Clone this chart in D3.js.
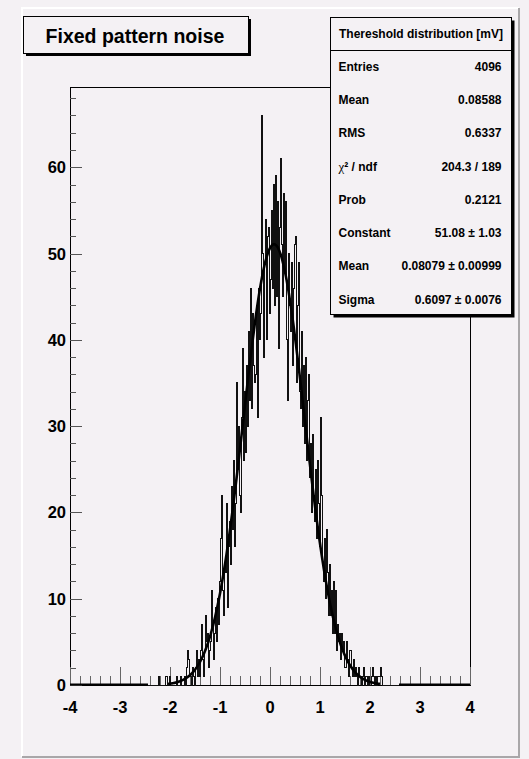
<!DOCTYPE html>
<html>
<head>
<meta charset="utf-8">
<script src="https://cdn.jsdelivr.net/npm/d3@7"></script>
<style>
  body { margin: 0; background: #f4f1f4; }
  svg text { font-family: "Liberation Sans", Arial, sans-serif; font-weight: bold; fill: #000; }
</style>
</head>
<body>
<div id="chart"></div>
<script>
// histogram binning
var xMin = -4, xMax = 4, nBins = 400;
var firstBin = 78; // bin holding the first stored count (left edge -2.44)

// counts per bin, 0.02 wide, from -2.44 to 2.58
var counts = [
  0, 0,
  0, 0, 0, 0, 0,
  0, 0, 0, 1, 0,
  0, 0, 0, 0, 0,
  1, 1, 0, 0, 1,
  0, 0, 0, 0, 0,
  0, 1, 0, 0, 0,
  1, 0, 0, 0, 1,
  0, 2, 4, 3, 1,
  1, 0, 2, 1, 0,
  2, 4, 1, 3, 1,
  4, 7, 3, 1, 4,
  8, 5, 6, 2, 4,
  5, 11, 7, 3, 6,
  9, 5, 10, 7, 12,
  17, 22, 11, 8, 14,
  13, 21, 9, 16, 19,
  14, 23, 18, 26, 16,
  21, 35, 25, 30, 22,
  20, 31, 39, 26, 34,
  27, 37, 30, 41, 33,
  46, 32, 43, 37, 35,
  36, 44, 31, 46, 40,
  43, 66, 50, 38, 49,
  54, 40, 52, 53, 43,
  47, 55, 46, 58, 44,
  59, 45, 56, 39, 53,
  61, 51, 45, 57, 48,
  56, 40, 33, 50, 44,
  41, 49, 37, 46, 51,
  52, 35, 44, 49, 34,
  32, 41, 30, 37, 28,
  38, 26, 33, 36, 24,
  28, 20, 29, 22, 19,
  25, 17, 26, 21, 16,
  31, 22, 14, 12, 17,
  10, 18, 13, 8, 14,
  8, 11, 6, 12, 6,
  11, 4, 7, 5, 6,
  3, 6, 4, 5, 2,
  2, 5, 3, 1, 4,
  4, 2, 1, 3, 1,
  2, 1, 0, 2, 1,
  1, 0, 1, 2, 0,
  1, 1, 0, 1, 0,
  0, 1, 2, 1, 0,
  1, 0, 1, 1, 1,
  2, 1, 0, 0, 0,
  0, 0, 0, 0, 0,
  0, 0, 0, 0, 0,
  0, 0, 0, 0
];

// gaus fit result
var fitConst = 51.08, fitMean = 0.08079, fitSigma = 0.6097;

var xTickLabels = ["-4", "-3", "-2", "-1", "0", "1", "2", "3", "4"];
var title = "Fixed pattern noise";
var statTitle = "Thereshold distribution [mV]";
var statLabels = ["Entries", "Mean", "RMS", "χ² / ndf", "Prob", "Constant", "Mean", "Sigma"];
var statValues = ["4096", "0.08588", "0.6337", "204.3 / 189", "0.2121", "51.08 ± 1.03", "0.08079 ± 0.00999", "0.6097 ± 0.0076"];

var W = 529, H = 759;
var padColor = "#f4f1f4";
var margin = {top: 87, right: 59, bottom: 74, left: 70},
    width = W - margin.left - margin.right,
    height = H - margin.top - margin.bottom;

var svg = d3.select("#chart").append("svg")
    .attr("width", W)
    .attr("height", H);

// pad with bevel border
svg.append("rect").attr("x", 0).attr("y", 0).attr("width", W).attr("height", H).attr("fill", padColor);
svg.append("path").attr("d", "M22,757 L22,8 L519,8").attr("fill", "none").attr("stroke", "#ffffff").attr("stroke-width", 2);
svg.append("path").attr("d", "M22,757 L519,757 L519,8").attr("fill", "none").attr("stroke", "#a9a7a9").attr("stroke-width", 2);

var binWidth = (xMax - xMin) / nBins;
var ymax = d3.max(counts) * 1.05;

var x = d3.scaleLinear().domain([xMin, xMax]).range([margin.left, margin.left + width]);
var y = d3.scaleLinear().domain([0, ymax]).range([margin.top + height, margin.top]);

var g = svg.append("g");

// frame
g.append("rect")
    .attr("x", margin.left + 0.5).attr("y", margin.top + 0.5)
    .attr("width", width).attr("height", height)
    .attr("fill", "none").attr("stroke", "#000").attr("stroke-width", 1);

// y ticks (inside frame)
var yMajor = y.ticks(7);
var yMinor = d3.range(0, ymax, 2).filter(function(v) { return v % 10 !== 0; });
g.selectAll(".ymin").data(yMinor).enter().append("line")
    .attr("x1", margin.left).attr("x2", margin.left + 6)
    .attr("y1", function(d) { return Math.round(y(d)) + 0.5; })
    .attr("y2", function(d) { return Math.round(y(d)) + 0.5; })
    .attr("stroke", "#555");
g.selectAll(".ymaj").data(yMajor).enter().append("line")
    .attr("x1", margin.left).attr("x2", margin.left + 12)
    .attr("y1", function(d) { return Math.round(y(d)) + 0.5; })
    .attr("y2", function(d) { return Math.round(y(d)) + 0.5; })
    .attr("stroke", "#555");
g.selectAll(".ylab").data(yMajor).enter().append("text")
    .attr("x", margin.left - 4)
    .attr("y", function(d) { return y(d) + 6; })
    .attr("text-anchor", "end")
    .style("font-size", "16.5px")
    .text(function(d) { return d; });

// x ticks (pointing up from bottom)
var xMajor = x.ticks(8);
var xMinor = d3.range(0, 41).map(function(i) { return xMin + i * 0.2; });
g.selectAll(".xmin").data(xMinor).enter().append("line")
    .attr("x1", function(d) { return Math.round(x(d)) + 0.5; })
    .attr("x2", function(d) { return Math.round(x(d)) + 0.5; })
    .attr("y1", y(0)).attr("y2", y(0) - 9)
    .attr("stroke", "#666");
g.selectAll(".xmaj").data(xMajor).enter().append("line")
    .attr("x1", function(d) { return Math.round(x(d)) + 0.5; })
    .attr("x2", function(d) { return Math.round(x(d)) + 0.5; })
    .attr("y1", y(0)).attr("y2", y(0) - 18)
    .attr("stroke", "#666");
g.selectAll(".xlab").data(xMajor).enter().append("text")
    .attr("x", function(d) { return x(d); })
    .attr("y", y(0) + 28)
    .attr("text-anchor", "middle")
    .style("font-size", "16.5px")
    .text(function(d, i) { return xTickLabels[i]; });

// histogram outline (steps)
var bins = counts.map(function(c, i) {
  var lo = xMin + (firstBin + i) * binWidth;
  return {lo: lo, hi: lo + binWidth, c: c};
});
var dataLo = bins[0].lo, dataHi = bins[bins.length - 1].hi;
var step = "M" + x(dataLo) + "," + y(0);
bins.forEach(function(b) {
  step += "L" + x(b.lo) + "," + y(b.c) + "L" + x(b.hi) + "," + y(b.c);
});
step += "L" + x(dataHi) + "," + y(0);
g.append("path").attr("d", step).attr("fill", "none")
    .attr("stroke", "#111").attr("stroke-width", 1)
    .attr("shape-rendering", "crispEdges");

// empty tails of the histogram
g.append("line").attr("x1", x(xMin)).attr("x2", x(dataLo)).attr("y1", y(0) - 0.5).attr("y2", y(0) - 0.5)
    .attr("stroke", "#000").attr("stroke-width", 2);
g.append("line").attr("x1", x(dataHi)).attr("x2", x(xMax)).attr("y1", y(0) - 0.5).attr("y2", y(0) - 0.5)
    .attr("stroke", "#000").attr("stroke-width", 2);

// fit curve
var gaus = function(v) { return fitConst * Math.exp(-0.5 * Math.pow((v - fitMean) / fitSigma, 2)); };
var curvePts = d3.range(dataLo, dataHi, 0.01).filter(function(v) { return gaus(v) > 0.12; });
g.append("path")
    .attr("d", d3.line().x(function(d) { return x(d); }).y(function(d) { return y(gaus(d)); })(curvePts))
    .attr("fill", "none").attr("stroke", "#000").attr("stroke-width", 2.6);

// title box
svg.append("rect").attr("x", 26).attr("y", 19).attr("width", 225).attr("height", 37).attr("fill", "#000");
svg.append("rect").attr("x", 23.5).attr("y", 16.5).attr("width", 225).attr("height", 37)
    .attr("fill", padColor).attr("stroke", "#000").attr("stroke-width", 1);
svg.append("text").attr("x", 135).attr("y", 43)
    .attr("text-anchor", "middle").style("font-size", "19.5px").text(title);

// stats box
var sx = 330.5, sy = 17.5, sw = 181, sh = 297;
svg.append("rect").attr("x", sx + 3).attr("y", sy + 3).attr("width", sw).attr("height", sh).attr("fill", "#000");
svg.append("rect").attr("x", sx).attr("y", sy).attr("width", sw).attr("height", sh)
    .attr("fill", padColor).attr("stroke", "#000").attr("stroke-width", 1);
svg.append("line").attr("x1", sx).attr("x2", sx + sw).attr("y1", 50.5).attr("y2", 50.5).attr("stroke", "#000");
svg.append("text").attr("x", sx + sw / 2).attr("y", 38)
    .attr("text-anchor", "middle").style("font-size", "12px").text(statTitle);

var rowY = d3.scaleLinear().domain([0, statLabels.length - 1]).range([71, 303.5]);
statLabels.forEach(function(lab, i) {
  var t = svg.append("text").attr("x", sx + 8).attr("y", rowY(i)).style("font-size", "12px");
  if (lab.charAt(0) === "χ") {
    t.append("tspan").style("font-family", "'Liberation Serif', serif").style("font-weight", "normal").style("font-size", "13px").text("χ");
    t.append("tspan").text(lab.slice(1));
  } else {
    t.text(lab);
  }
  svg.append("text").attr("x", sx + sw - 10).attr("y", rowY(i))
      .attr("text-anchor", "end").style("font-size", "12px").text(statValues[i]);
});
</script>
</body>
</html>
